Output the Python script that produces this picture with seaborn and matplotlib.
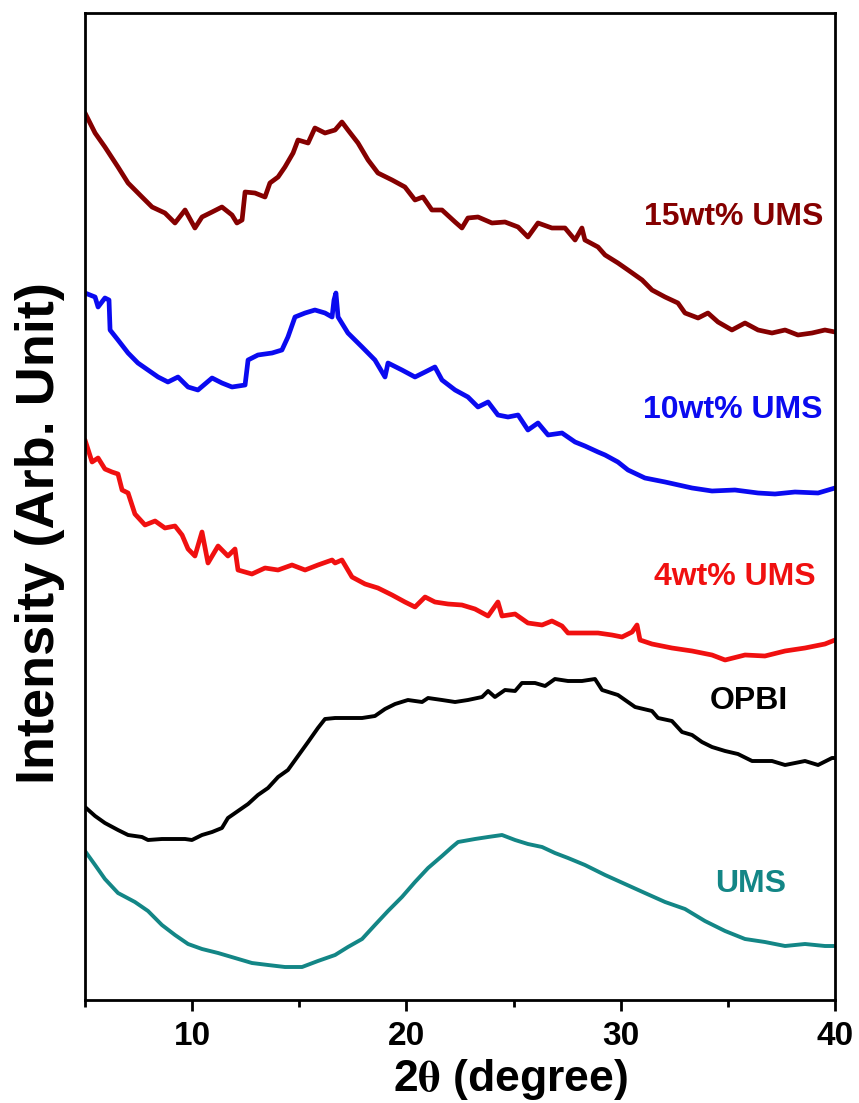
import numpy as np
import pandas as pd
import matplotlib
matplotlib.use("Agg")
import matplotlib.pyplot as plt
from matplotlib.ticker import MultipleLocator, NullLocator
import seaborn as sns

# ---------------- data ----------------
tt_15 = [5.00, 5.47, 5.93, 6.54, 7.01, 7.66, 8.13, 8.73, 9.20, 9.67, 10.13, 10.46, 10.93, 11.39, 11.86,
         12.09, 12.33, 12.47, 12.93, 13.40, 13.63, 14.01, 14.33, 14.71, 14.94, 15.41, 15.73, 16.20, 16.67,
         16.99, 17.27, 17.74, 18.21, 18.67, 19.33, 19.93, 20.40, 20.77, 21.19, 21.66, 22.27, 22.59, 22.87,
         23.34, 23.99, 24.60, 25.21, 25.67, 26.14, 26.79, 27.40, 27.87, 28.19, 28.33, 28.94, 29.27, 29.87,
         30.34, 31.00, 31.46, 32.07, 32.67, 33.00, 33.61, 34.07, 34.54, 35.19, 35.80, 36.41, 37.06, 37.67,
         38.27, 38.93, 39.53, 40.00]
int_15 = [887, 867, 853, 833, 817, 803, 793, 787, 777, 790, 772, 783, 788, 793, 785,
          777, 780, 808, 807, 803, 817, 823, 833, 847, 860, 857, 872, 867, 870,
          878, 870, 857, 840, 827, 820, 813, 800, 803, 790, 790, 778, 772, 782,
          783, 777, 778, 773, 763, 777, 772, 772, 760, 772, 760, 753, 745, 737,
          730, 720, 710, 703, 697, 687, 682, 687, 678, 670, 677, 670, 667, 670,
          665, 667, 670, 668]

tt_10 = [5.00, 5.47, 5.61, 5.93, 6.12, 6.17, 6.54, 7.01, 7.47, 7.94, 8.41, 8.87, 9.34, 9.81, 10.27,
         10.93, 11.39, 11.86, 12.47, 12.61, 13.07, 13.73, 14.19, 14.47, 14.80, 15.27, 15.73, 16.20, 16.53,
         16.62, 16.71, 16.81, 17.27, 17.93, 18.53, 19.00, 19.14, 19.79, 20.40, 20.87, 21.33, 21.66, 22.27,
         22.87, 23.34, 23.81, 24.27, 24.74, 25.21, 25.67, 26.14, 26.61, 27.26, 27.87, 28.33, 28.94, 29.27,
         29.87, 30.34, 31.13, 32.07, 33.33, 34.26, 35.33, 36.41, 37.20, 38.13, 39.21, 40.00]
int_10 = [707, 703, 693, 702, 700, 670, 660, 647, 637, 630, 623, 618, 623, 613, 610,
          622, 617, 613, 615, 640, 645, 647, 650, 663, 683, 687, 690, 687, 683,
          700, 707, 683, 667, 653, 640, 623, 637, 630, 623, 628, 633, 620, 610,
          603, 593, 598, 585, 583, 585, 570, 577, 565, 567, 558, 554, 548, 545,
          538, 530, 522, 518, 512, 509, 510, 507, 506, 508, 507, 512]

tt_4 = [5.00, 5.33, 5.61, 5.93, 6.26, 6.54, 6.73, 7.01, 7.33, 7.80, 8.27, 8.73, 9.20, 9.53, 9.81,
        10.13, 10.46, 10.74, 11.21, 11.67, 12.00, 12.14, 12.79, 13.40, 14.01, 14.66, 15.27, 15.87, 16.53,
        16.67, 16.99, 17.46, 18.07, 18.67, 19.33, 19.93, 20.40, 20.87, 21.33, 21.94, 22.59, 23.20, 23.81,
        24.27, 24.46, 25.07, 25.67, 26.33, 26.79, 27.26, 27.54, 28.19, 28.94, 29.59, 30.06, 30.53, 30.76,
        30.90, 31.46, 32.39, 33.33, 34.26, 34.87, 35.80, 36.73, 37.67, 38.60, 39.53, 40.00]
int_4 = [560, 538, 542, 531, 528, 526, 510, 507, 486, 475, 479, 472, 474, 465, 451,
         444, 468, 437, 454, 444, 451, 430, 426, 432, 430, 435, 430, 435, 440,
         437, 440, 423, 416, 412, 405, 398, 393, 403, 398, 396, 395, 391, 384,
         398, 384, 386, 377, 375, 379, 374, 367, 367, 367, 365, 363, 368, 375,
         360, 356, 352, 349, 345, 340, 345, 344, 349, 352, 356, 360]

tt_opbi = [5.00, 5.47, 5.93, 6.54, 7.01, 7.66, 7.94, 8.59, 9.20, 9.67, 9.99, 10.46, 10.93, 11.39, 11.67,
           12.14, 12.61, 13.07, 13.54, 14.01, 14.47, 14.94, 15.41, 15.87, 16.20, 16.67, 17.27, 17.93, 18.53,
           19.00, 19.47, 20.07, 20.73, 21.01, 21.66, 22.27, 22.87, 23.53, 23.81, 24.13, 24.60, 25.07, 25.39,
           26.00, 26.47, 26.93, 27.54, 28.19, 28.80, 29.13, 29.87, 30.67, 31.46, 31.74, 32.39, 32.86, 33.33,
           33.79, 34.26, 34.87, 35.47, 36.13, 37.06, 37.67, 38.60, 39.21, 39.86, 40.00]
int_opbi = [193, 184, 177, 170, 165, 163, 160, 161, 161, 161, 160, 165, 168, 172, 182,
            189, 196, 205, 212, 223, 230, 244, 258, 272, 281, 282, 282, 282, 284,
            291, 296, 300, 298, 302, 300, 298, 300, 303, 309, 303, 310, 309, 317,
            317, 314, 321, 319, 319, 321, 310, 305, 293, 289, 282, 279, 268, 265,
            258, 253, 249, 246, 239, 239, 235, 239, 235, 242, 242]

tt_ums = [5.00, 5.47, 5.93, 6.54, 7.33, 7.94, 8.59, 9.20, 9.81, 10.46, 11.21, 12.00, 12.79, 13.54, 14.33,
          15.13, 15.87, 16.67, 17.27, 17.93, 18.53, 19.14, 19.79, 20.40, 21.01, 21.66, 22.13, 22.41, 23.20,
          23.81, 24.46, 25.07, 25.67, 26.33, 26.93, 27.54, 28.33, 29.27, 30.20, 31.13, 32.07, 33.00, 33.93,
          34.87, 35.80, 36.73, 37.67, 38.60, 39.53, 40.00]
int_ums = [149, 135, 121, 107, 98, 89, 75, 65, 56, 51, 47, 42, 37, 35, 33,
           33, 39, 45, 53, 61, 75, 89, 103, 118, 132, 144, 153, 158, 161,
           163, 165, 160, 156, 153, 147, 142, 135, 125, 116, 107, 98, 91, 79,
           69, 61, 58, 54, 56, 54, 54]

samples = ["15wt% UMS", "10wt% UMS", "4wt% UMS", "OPBI", "UMS"]
x_ticks = [10, 20, 30, 40]

# ---------------- styling ----------------
colors = {"15wt% UMS": "#850000", "10wt% UMS": "#0A0AF0", "4wt% UMS": "#F01010",
          "OPBI": "#000000", "UMS": "#138686"}
widths = {"15wt% UMS": 3.4, "10wt% UMS": 3.4, "4wt% UMS": 3.4, "OPBI": 2.8, "UMS": 2.8}

series = {
    "15wt% UMS": (tt_15, int_15),
    "10wt% UMS": (tt_10, int_10),
    "4wt% UMS": (tt_4, int_4),
    "OPBI": (tt_opbi, int_opbi),
    "UMS": (tt_ums, int_ums),
}

sns.set_style("ticks")
plt.rcParams["font.family"] = ["Liberation Sans", "DejaVu Sans"]
plt.rcParams["font.weight"] = "bold"
plt.rcParams["mathtext.fontset"] = "stix"
plt.rcParams["text.color"] = "black"
plt.rcParams["axes.labelcolor"] = "black"
plt.rcParams["xtick.color"] = "black"
plt.rcParams["ytick.color"] = "black"

fig = plt.figure(figsize=(8.59, 11.03), dpi=100)
ax = fig.add_axes([85 / 859, 1 - 1000 / 1103, 750 / 859, 987 / 1103])

for name in samples:
    xs, ys = series[name]
    df = pd.DataFrame({"two_theta": xs, "intensity": ys})
    sns.lineplot(data=df, x="two_theta", y="intensity", ax=ax, color=colors[name],
                 linewidth=widths[name], sort=False, estimator=None)

ax.set_xlim(5, 40)
ax.set_ylim(0, 987)

# curve labels
label_pos = {"15wt% UMS": (39.45, 783), "10wt% UMS": (39.40, 590), "4wt% UMS": (39.08, 423),
             "OPBI": (37.80, 299), "UMS": (37.70, 116)}
for name in samples:
    lx, ly = label_pos[name]
    ax.text(lx, ly, name, color=colors[name], fontsize=23, fontweight="bold",
            ha="right", va="center")

ax.set_xticks(x_ticks)
ax.set_xticklabels([str(t) for t in x_ticks])
ax.xaxis.set_minor_locator(MultipleLocator(5))
ax.yaxis.set_major_locator(NullLocator())
ax.yaxis.set_minor_locator(NullLocator())
ax.tick_params(axis="x", which="major", direction="out", length=8, width=2,
               labelsize=24, pad=7, colors="black")
ax.tick_params(axis="x", which="minor", direction="out", length=5, width=2, colors="black")
for lab in ax.get_xticklabels():
    lab.set_fontweight("bold")
    lab.set_color("black")

for sp in ax.spines.values():
    sp.set_linewidth(2.0)
    sp.set_color("black")

ax.set_xlabel(r"2$\mathrm{\theta}$ (degree)", fontsize=32, fontweight="bold", color="black")
ax.xaxis.set_label_coords(0.567, -0.058)
ax.set_ylabel("Intensity (Arb. Unit)", fontsize=39, fontweight="bold", color="black")
ax.yaxis.set_label_coords(-0.027, 0.473)

fig.savefig("out.png", dpi=100)
